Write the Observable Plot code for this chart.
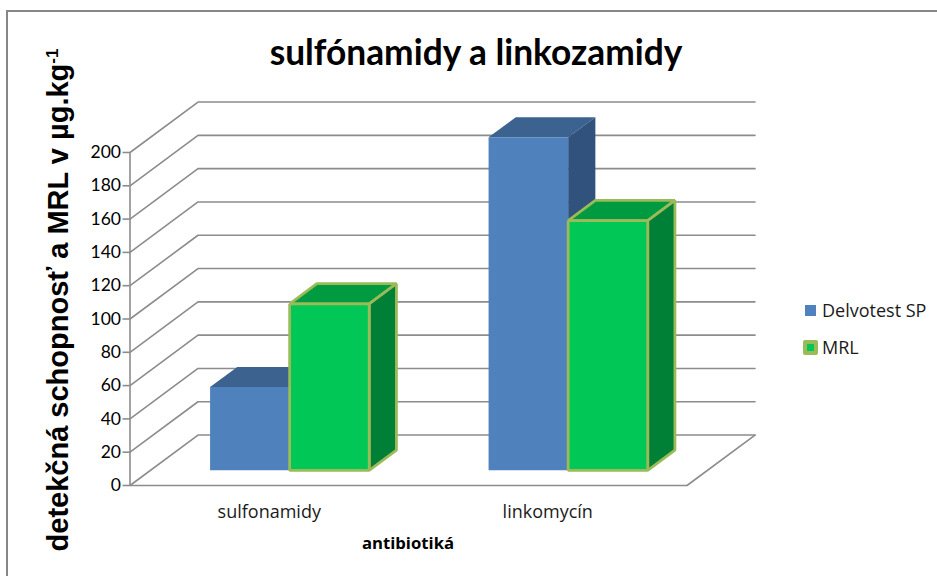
<!DOCTYPE html>
<html lang="sk">
<head>
<meta charset="utf-8">
<script src="https://cdn.jsdelivr.net/npm/d3@7"></script>
<script src="https://cdn.jsdelivr.net/npm/@observablehq/plot@0.6"></script>
<style>
html,body{margin:0;padding:0;background:#fff;overflow:hidden}
#wrap{position:relative;width:937px;height:576px;overflow:hidden}
#frame{position:absolute;left:6px;top:10px;width:1000px;height:700px;border:2px solid #868686;box-sizing:border-box}
#chart{position:absolute;left:0;top:0}
.t{position:absolute;white-space:nowrap;color:#000}
#title{left:476px;top:51px;transform:translate(-50%,-50%);font:700 35.3px Lato,sans-serif}
#ytitle{left:58px;top:300px;transform:translate(-50%,-50%) rotate(-90deg);font:700 29px "Liberation Sans",sans-serif}
#ytitle sup{font-size:17px;line-height:0;vertical-align:10px}
#xtitle{left:408px;top:542px;transform:translate(-50%,-50%);font:700 16.7px "Open Sans",sans-serif}
.lg{left:822px;transform:translateY(-50%);font:18px "Open Sans",sans-serif;color:#1a1a1a}
.sw{position:absolute;box-sizing:border-box}
</style>
</head>
<body>
<div id="wrap">
  <div id="frame"></div>
  <div id="chart"></div>
  <div class="t" id="title"></div>
  <div class="t" id="ytitle"></div>
  <div class="t" id="xtitle"></div>
  <div id="legend"></div>
</div>
<script>
const chartTitle = "sulfónamidy a linkozamidy";
const yTitle = "detekčná schopnosť a MRL v µg.kg";
const yTitleSup = "-1";
const xTitle = "antibiotiká";
const categories = ["sulfonamidy", "linkomycín"];
const seriesNames = ["Delvotest SP", "MRL"];
const delvotest = [50, 200];
const mrl = [100, 150];
const yTicks = [0, 20, 40, 60, 80, 100, 120, 140, 160, 180, 200];

const gridColor = "#8c8c8c";
const blue = {front: "#4F81BD", top: "#3C6390", side: "#31527C"};
const green = {front: "#00C756", top: "#009A41", side: "#007F37", stroke: "#9BBB59"};

// oblique projection expressed in data units
const depthX = 0.2442;      // categories per full floor depth
const depthY = 30.3;        // value units per full floor depth
const barWidth = 1 / 3.5;   // gap width 150 %
const barDepth = 0.4;       // gap depth 150 %
const barGap = 0.3;

const ortho = (a, d) => ({x: a.x + d * depthX, y: a.y + d * depthY});
function poly(points) { return [...points, points[0]]; }

function cuboid(cat, s, value, col) {
  const x0 = cat + 0.5 - barWidth + s * barWidth + barGap * depthX;
  const x1 = x0 + barWidth;
  const y0 = barGap * depthY;
  const y1 = y0 + value;
  const A = {x: x0, y: y1}, B = {x: x1, y: y1}, C = {x: x1, y: y0}, D = {x: x0, y: y0};
  const opts = col.stroke
    ? {stroke: col.stroke, strokeWidth: 2.8, strokeLinejoin: "miter", strokeLinecap: "butt"}
    : {stroke: null};
  const mk = (pts, fill) => Plot.line(poly(pts), {x: "x", y: "y", fill, curve: "linear", ...opts});
  return [
    mk([A, B, ortho(B, barDepth), ortho(A, barDepth)], col.top),
    mk([B, C, ortho(C, barDepth), ortho(B, barDepth)], col.side),
    mk([A, B, C, D], col.front)
  ];
}

const walls = yTicks.map(v => [
  {x: 0, y: v, v},
  {x: depthX, y: v + depthY, v},
  {x: 2 + depthX, y: v + depthY, v}
]).flat();
const floor = [
  {x: 0, y: 0}, {x: 2, y: 0}, {x: 2 + depthX, y: depthY}
];

const plot = Plot.plot({
  width: 937,
  height: 576,
  marginLeft: 129.5,
  marginRight: 250.5,
  marginTop: 152,
  marginBottom: 91,
  style: {background: "transparent", overflow: "visible"},
  x: {domain: [0, 2]},
  y: {domain: [0, 200]},
  marks: [
    Plot.line(walls, {x: "x", y: "y", z: "v", stroke: gridColor, strokeWidth: 1.6, curve: "linear", strokeLinejoin: "miter"}),
    Plot.line(floor, {x: "x", y: "y", stroke: gridColor, strokeWidth: 1.6, curve: "linear", strokeLinejoin: "miter"}),
    Plot.ruleX([0], {y1: 0, y2: 200, stroke: gridColor, strokeWidth: 1.6}),
    ...cuboid(0, 0, delvotest[0], blue),
    ...cuboid(0, 1, mrl[0], green),
    ...cuboid(1, 0, delvotest[1], blue),
    ...cuboid(1, 1, mrl[1], green),
    Plot.axisY({ticks: yTicks, tickSize: 7, tickPadding: 2, stroke: gridColor, strokeWidth: 1.6, fontSize: 17.5, color: "#000", fontFamily: "Lato, sans-serif", label: null, tickFormat: d => String(d)}),
    Plot.axisX({ticks: [0.5, 1.5], tickSize: 0, tickPadding: 20, fontSize: 18, fontFamily: "Open Sans, sans-serif", color: "#1a1a1a", label: null, tickFormat: d => categories[Math.floor(d)]})
  ]
});
document.getElementById("chart").append(plot);

document.getElementById("title").textContent = chartTitle;
document.getElementById("ytitle").innerHTML = yTitle + "<sup>" + yTitleSup + "</sup>";
document.getElementById("xtitle").textContent = xTitle;

const legend = document.getElementById("legend");
function legendRow(name, y, swatchCss) {
  const sw = document.createElement("div");
  sw.className = "sw";
  sw.style.cssText = swatchCss;
  const t = document.createElement("div");
  t.className = "t lg";
  t.style.top = y + "px";
  t.textContent = name;
  legend.append(sw, t);
}
legendRow(seriesNames[0], 310, `left:805px;top:305px;width:11px;height:11px;background:${blue.front}`);
legendRow(seriesNames[1], 347, `left:803px;top:340px;width:15px;height:15px;background:${green.front};border:4px solid ${green.stroke};border-radius:2px`);
</script>
</body>
</html>
